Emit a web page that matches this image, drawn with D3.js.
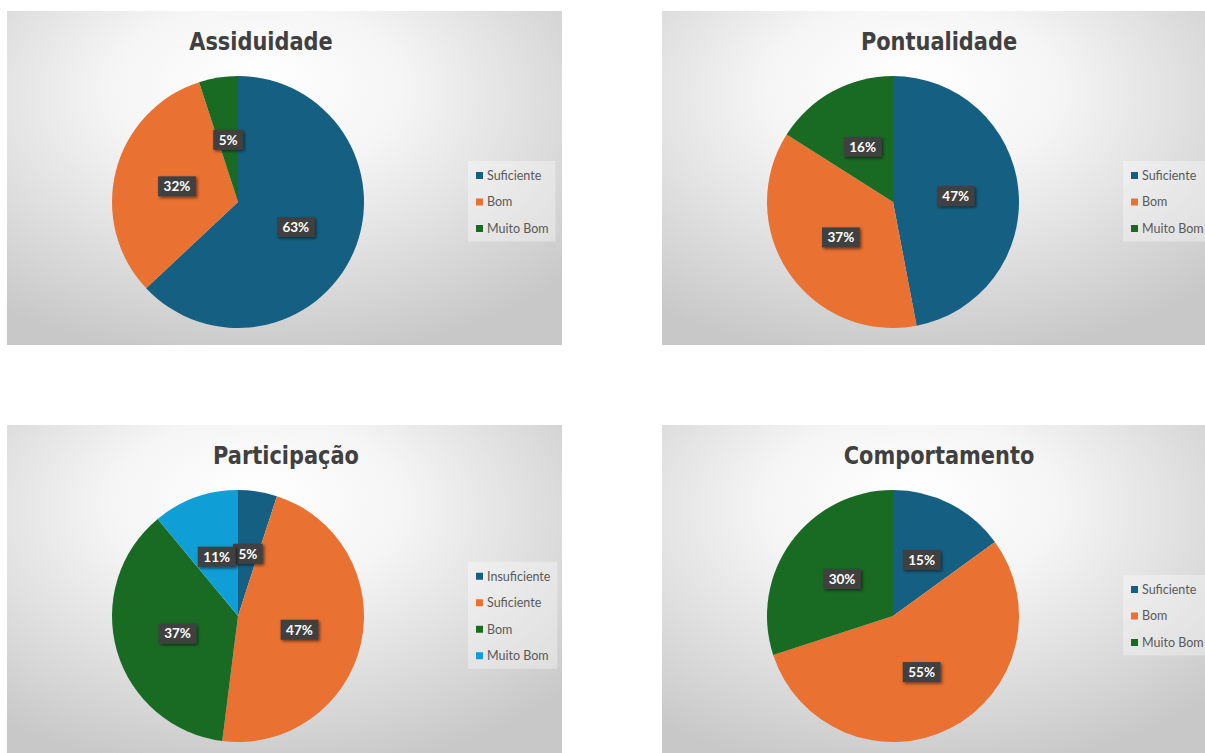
<!DOCTYPE html>
<html>
<head>
<meta charset="utf-8">
<script src="https://cdn.jsdelivr.net/npm/d3@7"></script>
<style>
  html, body { margin: 0; padding: 0; background: #fff; }
  svg { display: block; }
</style>
</head>
<body>
<svg id="chart" width="1205" height="753"></svg>
<script>
// chart data (percentages as printed on the slices)
const assiduidadeCats = ['Suficiente', 'Bom', 'Muito Bom'];
const assiduidadeVals = [63, 32, 5];

const pontualidadeCats = ['Suficiente', 'Bom', 'Muito Bom'];
const pontualidadeVals = [47, 37, 16];

const participacaoCats = ['Insuficiente', 'Suficiente', 'Bom', 'Muito Bom'];
const participacaoVals = [5, 47, 37, 11];

const comportamentoCats = ['Suficiente', 'Bom', 'Muito Bom'];
const comportamentoVals = [15, 55, 30];

// Office theme accents, used in series order
const palette = ['#156082', '#E97132', '#196B24', '#0F9ED5'];

const panels = [
    { title: 'Assiduidade', cats: assiduidadeCats, vals: assiduidadeVals, x: 7, y: 11, titleX: 254 },
    { title: 'Pontualidade', cats: pontualidadeCats, vals: pontualidadeVals, x: 662, y: 11, titleX: 277 },
    { title: 'Participação', cats: participacaoCats, vals: participacaoVals, x: 7, y: 425, titleX: 279 },
    { title: 'Comportamento', cats: comportamentoCats, vals: comportamentoVals, x: 662, y: 425, titleX: 277 }
];

const config = {
    panelW: 555,
    panelH: 334,
    radius: 126,
    pieX: 231,
    pieY: 191,
    legendX: 461,
    legendStep: 26.5,
    titleSqueeze: 0.93
};

const svg = d3.select('#chart');
const defs = svg.append('defs');

// soft radial background like the Excel chart style
const grad = defs.append('radialGradient')
    .attr('id', 'bg')
    .attr('cx', '45%').attr('cy', '30%').attr('r', '75%')
    .attr('fx', '45%').attr('fy', '20%');
grad.append('stop').attr('offset', '0%').attr('stop-color', '#ffffff');
grad.append('stop').attr('offset', '35%').attr('stop-color', '#f5f5f5');
grad.append('stop').attr('offset', '100%').attr('stop-color', '#c8c8c8');

const shadow = defs.append('filter')
    .attr('id', 'lblShadow')
    .attr('x', '-30%').attr('y', '-30%').attr('width', '160%').attr('height', '160%');
shadow.append('feDropShadow')
    .attr('dx', 1.5).attr('dy', 1.5)
    .attr('stdDeviation', 1.5)
    .attr('flood-color', '#000').attr('flood-opacity', 0.55);

const pie = d3.pie().sort(null).value(d => d.value);
const arc = d3.arc().innerRadius(0).outerRadius(config.radius);
const labelArc = d3.arc().innerRadius(config.radius * 0.5).outerRadius(config.radius * 0.5);

panels.forEach(p => {
    const g = svg.append('g').attr('transform', `translate(${p.x},${p.y})`);
    const color = d3.scaleOrdinal().domain(p.cats).range(palette);
    const data = p.cats.map((c, i) => ({ cat: c, value: p.vals[i] }));

    g.append('rect')
        .attr('width', config.panelW)
        .attr('height', config.panelH)
        .attr('fill', 'url(#bg)');

    const title = g.append('text')
        .attr('x', p.titleX)
        .attr('y', 39)
        .attr('text-anchor', 'middle')
        .style('font-family', '"DejaVu Sans Condensed", "Liberation Sans Narrow", sans-serif')
        .style('font-stretch', 'condensed')
        .style('font-weight', 'bold')
        .style('font-size', '25px')
        .attr('fill', '#404040')
        .text(p.title);
    // the original title face is narrower, squeeze to match
    const tw = title.node().getComputedTextLength();
    title.attr('textLength', tw * config.titleSqueeze).attr('lengthAdjust', 'spacingAndGlyphs');

    const pg = g.append('g').attr('transform', `translate(${config.pieX},${config.pieY})`);
    const arcs = pie(data);

    pg.selectAll('path')
        .data(arcs)
        .join('path')
        .attr('d', arc)
        .attr('fill', d => color(d.data.cat));

    // data labels: dark boxes with white percentage
    const lbl = pg.selectAll('g.lbl')
        .data(arcs)
        .join('g')
        .attr('class', 'lbl')
        .attr('transform', d => `translate(${labelArc.centroid(d)})`);

    lbl.each(function (d) {
        const node = d3.select(this);
        const t = node.append('text')
            .attr('text-anchor', 'middle')
            .attr('dy', '0.36em')
            .style('font-family', 'Lato, "Noto Sans", sans-serif')
            .style('font-weight', 'bold')
            .style('font-size', '13.5px')
            .attr('fill', '#fff')
            .text(d.data.value + '%');
        const w = t.node().getComputedTextLength() + 11;
        node.insert('rect', 'text')
            .attr('x', -w / 2)
            .attr('y', -10)
            .attr('width', w)
            .attr('height', 20)
            .attr('fill', '#404040')
            .attr('filter', 'url(#lblShadow)');
    });

    // legend
    const n = p.cats.length;
    const firstY = config.pieY - (n - 1) * config.legendStep / 2;
    const lg = g.append('g').attr('transform', `translate(${config.legendX},0)`);
    const box = lg.append('rect')
        .attr('y', firstY - 14.5)
        .attr('height', (n - 1) * config.legendStep + 27.5)
        .attr('fill', '#ffffff')
        .attr('fill-opacity', 0.35);

    let maxW = 0;
    p.cats.forEach((c, i) => {
        const y = firstY + i * config.legendStep;
        lg.append('rect')
            .attr('x', 8).attr('y', y - 3.5)
            .attr('width', 7).attr('height', 7)
            .attr('fill', color(c));
        const t = lg.append('text')
            .attr('x', 19).attr('y', y)
            .attr('dy', '0.35em')
            .style('font-family', 'Lato, "Noto Sans", sans-serif')
            .style('font-size', '12.5px')
            .attr('fill', '#595959')
            .text(c);
        maxW = Math.max(maxW, t.node().getComputedTextLength());
    });
    box.attr('width', 19 + maxW + 7);
});
</script>
</body>
</html>
